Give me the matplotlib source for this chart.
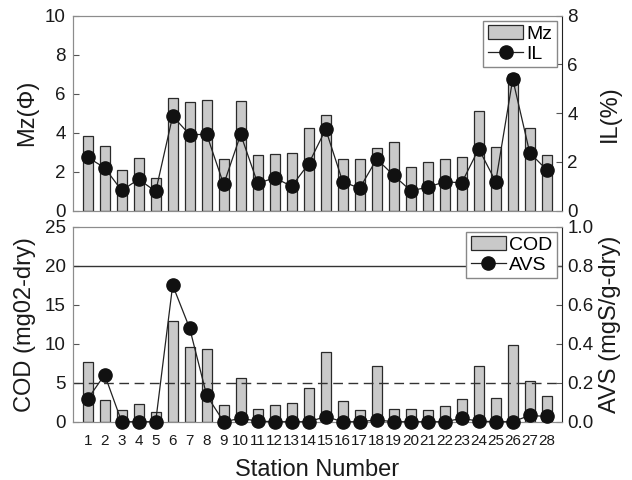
import matplotlib
matplotlib.use("Agg")
import matplotlib.pyplot as plt
from matplotlib.lines import Line2D
from matplotlib.patches import Rectangle
import numpy as np

stations = list(range(1, 29))
station_labels = [str(s) for s in stations]

mz = [3.85, 3.30, 2.07, 2.70, 1.66, 5.76, 5.56, 5.66, 2.63, 5.62,
      2.84, 2.91, 2.96, 4.22, 4.92, 2.63, 2.63, 3.23, 3.50, 2.26,
      2.51, 2.67, 2.74, 5.13, 3.25, 6.99, 4.24, 2.84]
il = [2.19, 1.76, 0.83, 1.29, 0.79, 3.88, 3.12, 3.13, 1.08, 3.13,
      1.12, 1.35, 1.00, 1.93, 3.34, 1.19, 0.92, 2.12, 1.45, 0.82,
      0.96, 1.19, 1.14, 2.54, 1.19, 5.40, 2.38, 1.67]
cod = [7.6, 2.78, 1.45, 2.22, 1.24, 12.95, 9.53, 9.27, 2.14, 5.56,
       1.58, 2.18, 2.39, 4.36, 8.89, 2.69, 1.45, 7.18, 1.58, 1.58,
       1.45, 2.0, 2.9, 7.18, 2.99, 9.83, 5.17, 3.25]
avs = [0.116, 0.241, 0.0, 0.0, 0.0, 0.70, 0.479, 0.135, 0.0, 0.017,
       0.003, 0.0, 0.0, 0.0, 0.026, 0.0, 0.0, 0.009, 0.0, 0.0,
       0.0, 0.0, 0.017, 0.003, 0.0, 0.0, 0.032, 0.027]
cod_ref_lines = [20, 5]

plt.rcParams['font.family'] = ['Liberation Sans', 'DejaVu Sans']

W, H = 632, 480
fig = plt.figure(figsize=(W / 100, H / 100), dpi=100)

def frac(x0, y0, x1, y1):
    return [x0 / W, 1 - y1 / H, (x1 - x0) / W, (y1 - y0) / H]

ax1 = fig.add_axes(frac(72.7, 15.7, 561.7, 210.7))
ax3 = fig.add_axes(frac(72.7, 226.7, 561.7, 421.7))

bar_fc = '#c9c9c9'
bar_ec = '#2a2a2a'
spine_gray = '#8c8c8c'
txt = '#1a1a1a'
tick_fs = 13.5
label_fs = 17
leg_fs = 14

def style(ax, ax2):
    for s in ['left', 'top', 'bottom']:
        ax.spines[s].set_color(spine_gray)
        ax2.spines[s].set_color(spine_gray)
    ax.spines['right'].set_visible(False)
    ax2.spines['right'].set_color('#222222')
    ax.tick_params(axis='y', direction='in', length=4, width=0.8, color='#555555',
                   labelsize=tick_fs, labelcolor=txt, pad=5)
    ax2.tick_params(axis='y', direction='in', length=4, width=0.8, color='#555555',
                    labelsize=tick_fs, labelcolor=txt, pad=4)
    ax.tick_params(axis='x', length=0)
    ax.set_xlim(0.12, 28.88)

# ---- top panel ----
ax1.bar(stations, mz, width=0.6, color=bar_fc, edgecolor=bar_ec, linewidth=0.9)
ax1.set_ylim(0, 10)
ax1.set_yticks([0, 2, 4, 6, 8, 10])
ax1.set_xticks(stations)
ax1.tick_params(axis='x', labelbottom=False)
ax2 = ax1.twinx()
ax2.plot(stations, il, color='#222222', lw=0.9, marker='o', ms=9.5,
         mfc='#111111', mec='#111111', clip_on=False, zorder=5)
ax2.set_ylim(0, 8)
ax2.set_yticks([0, 2, 4, 6, 8])
style(ax1, ax2)
ax1.set_ylabel('Mz(Φ)', fontsize=label_fs, color=txt)
ax1.yaxis.set_label_coords((26.7 - 72.7) / 489, 0.5)
ax1.yaxis.label.set_va('center')
ax2.set_ylabel('IL(%)', fontsize=label_fs, color=txt)
ax2.yaxis.set_label_coords((610 - 72.7) / 489, 0.5)
ax2.yaxis.label.set_va('center')

h_bar = Rectangle((0, 0), 1, 1, facecolor=bar_fc, edgecolor=bar_ec, linewidth=0.9)
h_line = Line2D([], [], color='#222222', lw=0.9, marker='o', ms=9.5,
                mfc='#111111', mec='#111111')
leg = ax2.legend([h_bar, h_line], ['Mz', 'IL'], loc='upper right', fontsize=leg_fs,
                 fancybox=False, framealpha=1, edgecolor='#888888',
                 borderpad=0.25, labelspacing=0.1, handlelength=1.8,
                 handletextpad=0.15, borderaxespad=0.25)
leg.get_frame().set_linewidth(1.0)

# ---- bottom panel ----
ax3.bar(stations, cod, width=0.6, color=bar_fc, edgecolor=bar_ec, linewidth=0.9)
ax3.set_ylim(0, 25)
ax3.set_yticks([0, 5, 10, 15, 20, 25])
ax3.axhline(cod_ref_lines[0], color='#333333', lw=1.0)
ax3.axhline(cod_ref_lines[1], color='#333333', lw=1.0, ls=(0, (7, 4)))
ax3.set_xticks(stations)
ax3.set_xticklabels(station_labels, fontsize=11, color=txt)
ax4 = ax3.twinx()
ax4.plot(stations, avs, color='#222222', lw=0.9, marker='o', ms=9.5,
         mfc='#111111', mec='#111111', clip_on=False, zorder=5)
ax4.set_ylim(0, 1.0)
ax4.set_yticks([0, 0.2, 0.4, 0.6, 0.8, 1.0])
ax4.set_yticklabels(['0.0', '0.2', '0.4', '0.6', '0.8', '1.0'])
style(ax3, ax4)
ax3.tick_params(axis='x', pad=9)
ax3.set_ylabel('COD (mg02-dry)', fontsize=label_fs, color=txt)
ax3.yaxis.set_label_coords((25.5 - 72.7) / 489, 0.5)
ax3.yaxis.label.set_va('center')
ax4.set_ylabel('AVS (mgS/g-dry)', fontsize=label_fs, color=txt)
ax4.yaxis.set_label_coords((610 - 72.7) / 489, 0.5)
ax4.yaxis.label.set_va('center')
ax3.set_xlabel('Station Number', fontsize=label_fs, color=txt)
ax3.xaxis.set_label_coords(0.5, (421.7 - 475.5) / 195)
ax3.xaxis.label.set_va('baseline')

h_bar2 = Rectangle((0, 0), 1, 1, facecolor=bar_fc, edgecolor=bar_ec, linewidth=0.9)
leg2 = ax4.legend([h_bar2, h_line], ['COD', 'AVS'], loc='upper right', fontsize=leg_fs,
                  fancybox=False, framealpha=1, edgecolor='#888888',
                  borderpad=0.25, labelspacing=0.1, handlelength=1.8,
                  handletextpad=0.15, borderaxespad=0.25)
leg2.get_frame().set_linewidth(1.0)

fig.savefig('out.png', dpi=100)
